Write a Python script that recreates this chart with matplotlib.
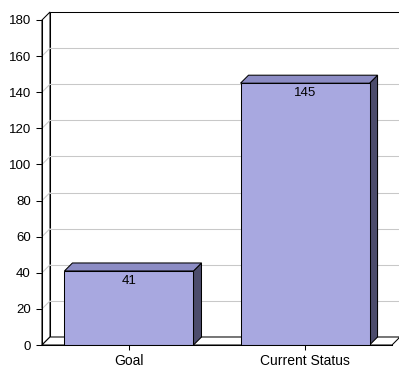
import numpy as np
import matplotlib
matplotlib.use("Agg")
import matplotlib.pyplot as plt
from matplotlib.patches import Polygon

# bar chart data
categories = ["Goal", "Current Status"]
values = [41, 145]
y_ticks = [0, 20, 40, 60, 80, 100, 120, 140, 160, 180]

FRONT = "#a8a8e0"
TOP = "#8c8cc4"
SIDE = "#4c4c6c"
GRID = "#c8c8c8"
LW = 0.75

plt.rcParams["font.family"] = ["Liberation Sans", "DejaVu Sans"]

W, H = 399, 368
fig = plt.figure(figsize=(W / 100, H / 100), dpi=100)
ax = fig.add_axes([42 / W, (H - 345) / H, 350 / W, 325 / H])

xmin, xmax = -0.494, 1.494
ymin, ymax = 0, 180
ax.set_xlim(xmin, xmax)
ax.set_ylim(ymin, ymax)

# depth of the pseudo-3D effect, 8 px converted to data units
depth_px = 8
dx = depth_px * (xmax - xmin) / 350
dy = depth_px * (ymax - ymin) / 325


def face(pts, fc, ec="black", lw=LW, z=1):
    p = Polygon(pts, closed=True, facecolor=fc, edgecolor=ec, linewidth=lw,
                clip_on=False, zorder=z, joinstyle="miter")
    ax.add_patch(p)


# back wall, left wall, floor
face([(xmin + dx, ymin + dy), (xmax + dx, ymin + dy),
      (xmax + dx, ymax + dy), (xmin + dx, ymax + dy)], "white", z=0.5)
face([(xmin, ymin), (xmin + dx, ymin + dy),
      (xmin + dx, ymax + dy), (xmin, ymax)], "white", z=0.6)
face([(xmin, ymin), (xmax, ymin), (xmax + dx, ymin + dy),
      (xmin + dx, ymin + dy)], "white", z=0.6)

# grid lines on the back and left walls
for v in y_ticks[1:-1]:
    ax.plot([xmin + dx, xmax + dx], [v + dy, v + dy], color=GRID, lw=LW,
            clip_on=False, zorder=0.7)
    ax.plot([xmin, xmin + dx], [v, v + dy], color=GRID, lw=LW,
            clip_on=False, zorder=0.7)

x = np.arange(len(categories))
width = 0.733
for xi, v in zip(x, values):
    x0, x1 = xi - width / 2, xi + width / 2
    face([(x1, 0), (x1 + dx, dy), (x1 + dx, v + dy), (x1, v)], SIDE, z=2)
    face([(x0, v), (x1, v), (x1 + dx, v + dy), (x0 + dx, v + dy)], TOP, z=2)

bars = ax.bar(x, values, width=width, color=FRONT, edgecolor="black",
              linewidth=LW, zorder=3)

for xi, v in zip(x, values):
    ax.annotate(str(v), (xi, v), xytext=(0, -4), textcoords="offset pixels",
                ha="center", va="top", fontsize=9.5, zorder=4)

ax.set_xticks(x)
ax.set_xticklabels(categories, fontsize=10)
ax.set_yticks(y_ticks)
ax.tick_params(axis="y", length=4.5, width=LW, pad=3.5, labelsize=9.5)
ax.tick_params(axis="x", length=3.6, width=LW, pad=3)

for s in ["top", "right"]:
    ax.spines[s].set_visible(False)
for s in ["left", "bottom"]:
    ax.spines[s].set_linewidth(LW)
    ax.spines[s].set_zorder(5)
ax.set_facecolor("none")

fig.savefig("out.png", dpi=100)
